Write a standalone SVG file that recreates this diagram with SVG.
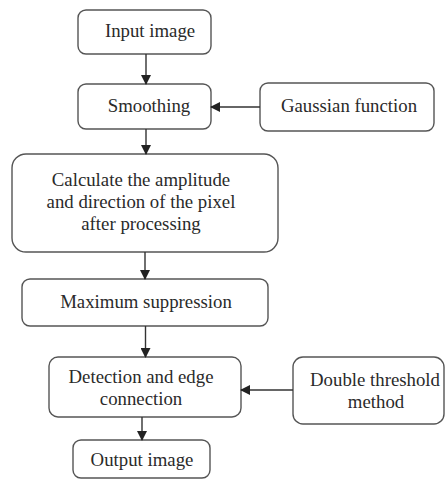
<svg xmlns="http://www.w3.org/2000/svg" width="445" height="482" viewBox="0 0 445 482">
<defs>
<marker id="ah" markerWidth="10" markerHeight="10" refX="9" refY="5" orient="auto" markerUnits="userSpaceOnUse">
<path d="M0,0 L10,5 L0,10 Z" fill="#222"/>
</marker>
<style>
.b{fill:#fff;stroke:#555;stroke-width:1.4}
.t{font-family:"Liberation Serif","Times New Roman",serif;font-size:18.8px;fill:#2a2a2a;text-anchor:middle}
.c{stroke:#333;stroke-width:1.4;fill:none}
</style>
</defs>
<rect width="445" height="482" fill="#fff"/>
<g id="input">
<rect class="b" x="78" y="10" width="133" height="44" rx="8"/>
<text class="t" x="150" y="37">Input image</text>
</g>
<g id="smoothing">
<rect class="b" x="78" y="84" width="133" height="45" rx="8"/>
<text class="t" x="149" y="112">Smoothing</text>
</g>
<g id="gaussian">
<rect class="b" x="260" y="83" width="174" height="48" rx="8"/>
<text class="t" x="349" y="112">Gaussian function</text>
</g>
<g id="calc">
<rect class="b" x="12" y="154" width="266" height="98" rx="14"/>
<text class="t" x="141" y="186">Calculate the amplitude</text>
<text class="t" x="141" y="208">and direction of the pixel</text>
<text class="t" x="141" y="230">after processing</text>
</g>
<g id="maxsup">
<rect class="b" x="22" y="279" width="246" height="47" rx="8"/>
<text class="t" x="146" y="308">Maximum suppression</text>
</g>
<g id="detection">
<rect class="b" x="49" y="357" width="192" height="60" rx="9"/>
<text class="t" x="141" y="383">Detection and edge</text>
<text class="t" x="141" y="405">connection</text>
</g>
<g id="double">
<rect class="b" x="293" y="357" width="151" height="67" rx="10"/>
<text class="t" x="375" y="386">Double threshold</text>
<text class="t" x="376" y="408">method</text>
</g>
<g id="output">
<rect class="b" x="73" y="440" width="137" height="38" rx="8"/>
<text class="t" x="142" y="466">Output image</text>
</g>
<g id="connectors">
<line class="c" x1="146" y1="54" x2="146" y2="84" marker-end="url(#ah)"/>
<line class="c" x1="260" y1="107" x2="211" y2="107" marker-end="url(#ah)"/>
<line class="c" x1="146" y1="129" x2="146" y2="154" marker-end="url(#ah)"/>
<line class="c" x1="145" y1="252" x2="145" y2="279" marker-end="url(#ah)"/>
<line class="c" x1="145.5" y1="326" x2="145.5" y2="357" marker-end="url(#ah)"/>
<line class="c" x1="293" y1="390" x2="241" y2="390" marker-end="url(#ah)"/>
<line class="c" x1="142" y1="417" x2="142" y2="440" marker-end="url(#ah)"/>
</g>
</svg>
